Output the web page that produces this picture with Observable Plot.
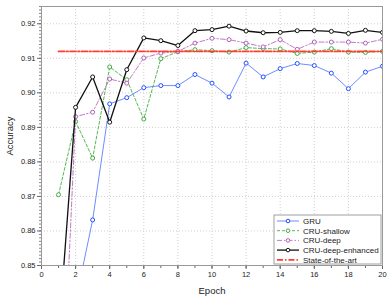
<!DOCTYPE html>
<html>
<head>
<meta charset="utf-8">
<script src="https://cdn.jsdelivr.net/npm/d3@7"></script>
<script src="https://cdn.jsdelivr.net/npm/@observablehq/plot@0.6"></script>
<style>
  html, body { margin: 0; padding: 0; background: #fff; }
</style>
</head>
<body>
<div id="chart"></div>
<script>
const epochs = d3.range(1, 21);
const gru = [0.815, 0.8396, 0.8632, 0.8968, 0.8986, 0.9015, 0.9021, 0.9021, 0.9053, 0.9028, 0.8988, 0.9086, 0.9046, 0.9070, 0.9085, 0.9079, 0.9057, 0.9012, 0.9060, 0.9077];
const cruShallow = [0.8705, 0.8917, 0.8811, 0.9075, 0.9038, 0.8924, 0.9099, 0.9119, 0.9125, 0.9122, 0.9118, 0.9131, 0.9128, 0.9127, 0.9114, 0.9118, 0.9128, 0.9118, 0.9117, 0.9120];
const cruDeep = [0.785, 0.8931, 0.8944, 0.9040, 0.9028, 0.9101, 0.9115, 0.9120, 0.9144, 0.9158, 0.9154, 0.9144, 0.9133, 0.9154, 0.9126, 0.9147, 0.9147, 0.9147, 0.9144, 0.9155];
const cruDeepEnhanced = [0.8294, 0.8958, 0.9046, 0.8915, 0.9067, 0.9159, 0.9151, 0.9137, 0.9180, 0.9183, 0.9193, 0.9179, 0.9174, 0.9175, 0.9180, 0.9180, 0.9178, 0.9172, 0.9181, 0.9175];
const stateOfTheArt = 0.912;
const sotaRange = [1, 20];
const xTicks = [0, 2, 4, 6, 8, 10, 12, 14, 16, 18, 20];
const yTicks = [0.85, 0.86, 0.87, 0.88, 0.89, 0.90, 0.91, 0.92];

const series = [
  {name: "GRU", values: gru, line: "#6f8cff", dot: "#2050ff", width: 1, dash: null, markers: true},
  {name: "CRU-shallow", values: cruShallow, line: "#55b855", dot: "#44a844", width: 1, dash: "3,2", markers: true},
  {name: "CRU-deep", values: cruDeep, line: "#c27ac6", dot: "#b060b8", width: 1, dash: "5,2,1.5,2", markers: true},
  {name: "CRU-deep-enhanced", values: cruDeepEnhanced, line: "#111", dot: "#111", width: 1.3, dash: null, markers: true},
  {name: "State-of-the-art", values: null, line: "#ff3d2e", dot: null, width: 1.8, dash: "6,2,1.5,2", markers: false}
];

const rows = s => s.values.map((v, i) => ({epoch: epochs[i], acc: v}));
const sotaRows = sotaRange.map(e => ({epoch: e, acc: stateOfTheArt}));

const minorY = d3.range(850, 926, 1).map(v => v / 1000);
const minorX = d3.range(0, 21, 1);

const marks = [
  Plot.gridX(xTicks.filter(d => d > 0 && d < 20), {stroke: "#cfcfcf", strokeOpacity: 1, strokeDasharray: "1,2"}),
  Plot.gridY(yTicks.filter(d => d > 0.85), {stroke: "#cfcfcf", strokeOpacity: 1, strokeDasharray: "1,2"}),
  Plot.axisX(minorX, {tickSize: 3, text: null, label: null, stroke: "#666"}),
  Plot.axisX(xTicks, {tickSize: 4, tickPadding: 2, fontSize: 7.5, fill: "#222", stroke: "#666", label: null}),
  Plot.axisX([], {label: "Epoch", fontSize: 9.5, fill: "#222", labelAnchor: "center", labelArrow: "none", labelOffset: 28}),
  Plot.axisY(minorY, {tickSize: 2, text: null, label: null, stroke: "#888"}),
  Plot.axisY(yTicks, {tickSize: 4, tickPadding: 2, fontSize: 7.5, fill: "#222", stroke: "#666", tickFormat: d3.format(".2f"), label: null}),
  Plot.axisY([], {label: "Accuracy", fontSize: 9.5, fill: "#222", labelAnchor: "center", labelArrow: "none", labelOffset: 35}),
  Plot.frame({stroke: "#999", strokeWidth: 1})
];

for (const s of series) {
  if (s.values) {
    marks.push(Plot.line(rows(s), {x: "epoch", y: "acc", stroke: s.line, strokeWidth: s.width, strokeDasharray: s.dash, clip: true}));
    marks.push(Plot.dot(rows(s), {x: "epoch", y: "acc", r: 2, stroke: s.dot, strokeWidth: 1, fill: "white", clip: true}));
  } else {
    marks.push(Plot.line(sotaRows, {x: "epoch", y: "acc", stroke: s.line, strokeWidth: s.width, strokeDasharray: s.dash, clip: true}));
  }
}

const chart = Plot.plot({
  width: 392,
  height: 297,
  marginLeft: 41,
  marginRight: 10,
  marginTop: 6,
  marginBottom: 32,
  style: {fontFamily: "'Liberation Sans', Arial, sans-serif", fontSize: "9px", background: "white", color: "#222"},
  x: {domain: [0, 20]},
  y: {domain: [0.85, 0.925]},
  marks
});

// legend inside the plot, lower right
const svg = d3.select(chart);
const lx = 274, ly = 215, lw = 107, lh = 49, step = 9.7;
const g = svg.append("g").attr("font-family", "'Liberation Sans', Arial, sans-serif").attr("font-size", 8).attr("text-anchor", "start");
g.append("rect").attr("x", lx).attr("y", ly).attr("width", lw).attr("height", lh)
  .attr("fill", "white").attr("stroke", "#888").attr("stroke-width", 0.8);
series.forEach((s, i) => {
  const cy = ly + 6 + i * step;
  g.append("line").attr("x1", lx + 3).attr("x2", lx + 25).attr("y1", cy).attr("y2", cy)
    .attr("stroke", s.line).attr("stroke-width", s.width).attr("stroke-dasharray", s.dash);
  if (s.markers) {
    g.append("circle").attr("cx", lx + 14).attr("cy", cy).attr("r", 1.8)
      .attr("fill", "white").attr("stroke", s.dot).attr("stroke-width", 1);
  }
  g.append("text").attr("x", lx + 29).attr("y", cy).attr("dy", "0.35em").attr("fill", "#222")
    .attr("text-anchor", "start").text(s.name);
});

document.getElementById("chart").appendChild(chart);
</script>
</body>
</html>
